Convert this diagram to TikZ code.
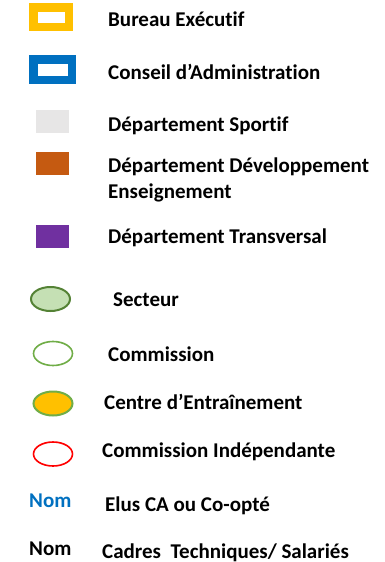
\documentclass[tikz,border=0pt]{standalone}
\usepackage{fontspec}
\setmainfont{Carlito}[Ligatures=NoCommon]
\usetikzlibrary{shapes.geometric}
\definecolor{jaune}{HTML}{FFC000}
\definecolor{bleu}{HTML}{0070C0}
\definecolor{gris}{HTML}{E7E6E6}
\definecolor{orange}{HTML}{C55A11}
\definecolor{violet}{HTML}{7030A0}
\definecolor{vertclair}{HTML}{C5E0B4}
\definecolor{vertfonce}{HTML}{548235}
\definecolor{vert}{HTML}{70AD47}
\begin{document}
\begin{tikzpicture}[x=1pt,y=-1pt,
        legende/.style={anchor=base west,inner sep=0pt,font=\fontsize{21}{26}\selectfont\bfseries,align=left},
        cadre/.style={line width=8.5pt},
        carre/.style={minimum width=33pt,minimum height=23pt,inner sep=0pt},
        bulle/.style={ellipse,minimum width=39pt,minimum height=24pt,inner sep=0pt,line width=1.6pt}]
        \useasboundingbox (0,0) rectangle (385,562);
        % rectangles
        \draw[cadre,jaune] (33.25,7.25) rectangle (68.75,26.75);
        \node[legende] (be) at (108,27) {Bureau Exécutif};
        \draw[cadre,bleu] (33.25,59.25) rectangle (71.75,79.75);
        \node[legende] (ca) at (108,79) {Conseil d’Administration};
        \node[carre,fill=gris] (ds) at (52.5,121.5) {};
        \node[legende] (tds) at (108,131) {Département Sportif};
        \node[carre,fill=orange] (dd) at (52.5,163.5) {};
        \node[legende] (tdd) at (108,198) {Département Développement\\Enseignement};
        \node[carre,fill=violet] (dt) at (52.5,236.5) {};
        \node[legende] (tdt) at (108,243) {Département Transversal};
        % ellipses
        \node[bulle,draw=vertfonce,fill=vertclair,line width=2pt] (sec) at (50.5,299) {};
        \node[legende] (tsec) at (113,306) {Secteur};
        \node[bulle,draw=vert,fill=white] (com) at (53,353.5) {};
        \node[legende] (tcom) at (108,361) {Commission};
        \node[bulle,draw=vert,fill=jaune,line width=2pt] (ce) at (53,403.5) {};
        \node[legende] (tce) at (104,409) {Centre d’Entraînement};
        \node[bulle,draw=red] (ci) at (53,454) {};
        \node[legende] (tci) at (102,457) {Commission Indépendante};
        % noms
        \node[legende,text=bleu] (nb) at (29,507) {Nom};
        \node[legende] (telus) at (105,511) {Elus CA ou Co-opté};
        \node[legende] (nn) at (29,555) {Nom};
        \node[legende] (tcad) at (102,558) {Cadres~ Techniques/ Salariés};
\end{tikzpicture}
\end{document}
